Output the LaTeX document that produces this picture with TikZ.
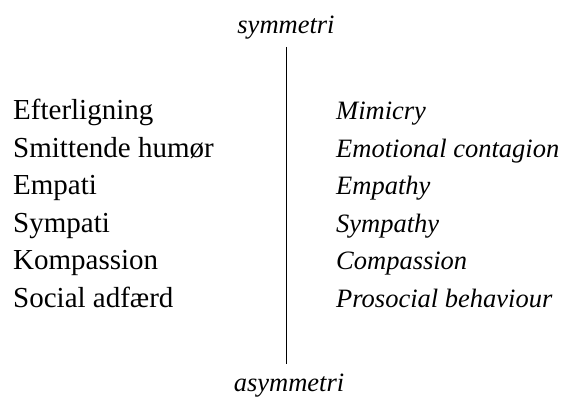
\documentclass[tikz,border=0pt]{standalone}
\usepackage{fontspec}
\setmainfont{Liberation Serif}
\begin{document}
\begin{tikzpicture}[x=1pt,y=-1pt,
  lbl/.style={inner sep=0pt,anchor=base west,font=\fontsize{29}{34}\selectfont},
  ilbl/.style={inner sep=0pt,anchor=base west,font=\fontsize{26.5}{32}\selectfont\itshape},
  endlbl/.style={inner sep=0pt,anchor=base,font=\fontsize{26.5}{32}\selectfont\itshape}]
\useasboundingbox (0,0) rectangle (565,398);
\node[endlbl] (sym) at (286,34) {symmetri};
\node[endlbl] (asym) at (289,391) {asymmetri};
\coordinate (top) at (286,47);
\coordinate (bot) at (286,364);
\draw[line width=0.9pt] (top) -- (bot);
\node[lbl] (l1) at (13,120) {Efterligning};
\node[lbl] (l2) at (13,157.4) {Smittende humør};
\node[lbl] (l3) at (13,194.8) {Empati};
\node[lbl] (l4) at (13,232.2) {Sympati};
\node[lbl] (l5) at (13,269.6) {Kompassion};
\node[lbl] (l6) at (13,307) {Social adfærd};
\node[ilbl] (r1) at (336,120) {Mimicry};
\node[ilbl] (r2) at (336,157.4) {Emotional contagion};
\node[ilbl] (r3) at (336,194.8) {Empathy};
\node[ilbl] (r4) at (336,232.2) {Sympathy};
\node[ilbl] (r5) at (336,269.6) {Compassion};
\node[ilbl] (r6) at (336,307) {Prosocial behaviour};
\end{tikzpicture}
\end{document}
